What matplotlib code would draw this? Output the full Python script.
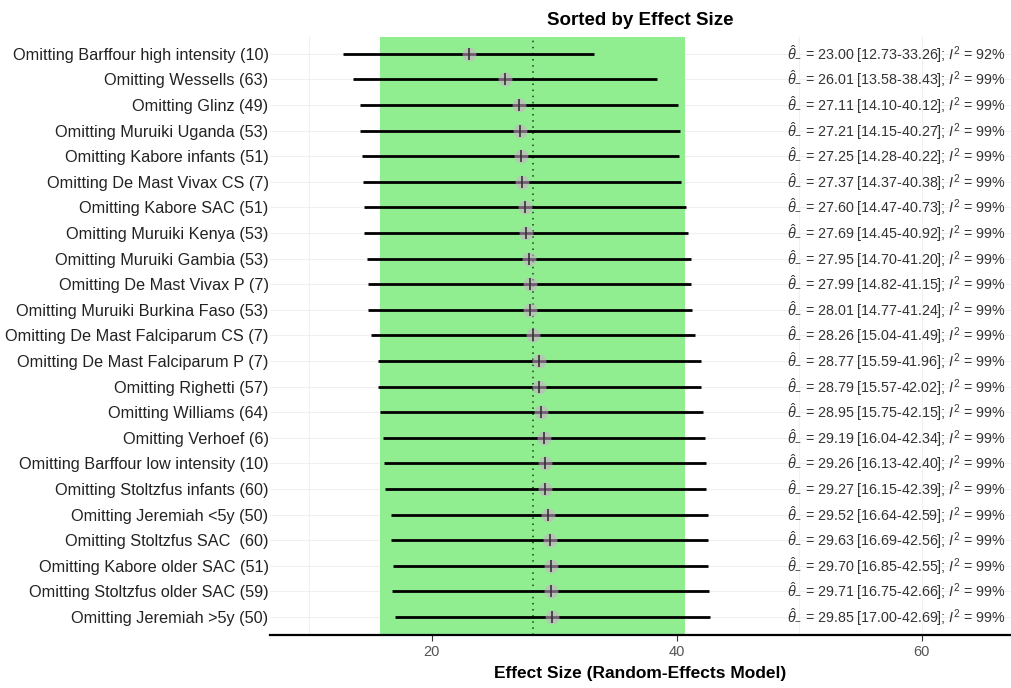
import numpy as np
import matplotlib
matplotlib.use('Agg')
import matplotlib.pyplot as plt

plt.rcParams['font.family'] = ['Liberation Sans', 'DejaVu Sans']
plt.rcParams['mathtext.fontset'] = 'custom'
plt.rcParams['mathtext.rm'] = 'Liberation Sans'
plt.rcParams['mathtext.it'] = 'Liberation Sans:italic'

studies = ['Barffour high intensity (10)', 'Wessells (63)', 'Glinz (49)', 'Muruiki Uganda (53)',
           'Kabore infants (51)', 'De Mast Vivax CS (7)', 'Kabore SAC (51)', 'Muruiki Kenya (53)',
           'Muruiki Gambia (53)', 'De Mast Vivax P (7)', 'Muruiki Burkina Faso (53)',
           'De Mast Falciparum CS (7)', 'De Mast Falciparum P (7)', 'Righetti (57)', 'Williams (64)',
           'Verhoef (6)', 'Barffour low intensity (10)', 'Stoltzfus infants (60)', 'Jeremiah <5y (50)',
           'Stoltzfus SAC  (60)', 'Kabore older SAC (51)', 'Stoltzfus older SAC (59)', 'Jeremiah >5y (50)']
est = [23.00, 26.01, 27.11, 27.21, 27.25, 27.37, 27.60, 27.69, 27.95, 27.99, 28.01, 28.26,
       28.77, 28.79, 28.95, 29.19, 29.26, 29.27, 29.52, 29.63, 29.70, 29.71, 29.85]
lower = [12.73, 13.58, 14.10, 14.15, 14.28, 14.37, 14.47, 14.45, 14.70, 14.82, 14.77, 15.04,
         15.59, 15.57, 15.75, 16.04, 16.13, 16.15, 16.64, 16.69, 16.85, 16.75, 17.00]
upper = [33.26, 38.43, 40.12, 40.27, 40.22, 40.38, 40.73, 40.92, 41.20, 41.15, 41.24, 41.49,
         41.96, 42.02, 42.15, 42.34, 42.40, 42.39, 42.59, 42.56, 42.55, 42.66, 42.69]
i2 = [92] + [99] * 22

pooled = 28.24
pooled_lo, pooled_hi = 15.76, 40.65

fig = plt.figure(figsize=(10.11, 6.88), dpi=100)
ax = fig.add_axes([0.267, 0.077, 0.733, 0.869])

n = len(studies)
ypos = np.arange(n, 0, -1)

ax.axvspan(pooled_lo, pooled_hi, color='#90EE90', zorder=1, lw=0)
ax.axvline(pooled, color='#1a3a1a', ls=(0, (1, 3)), lw=1.1, zorder=2)

ax.hlines(ypos, lower, upper, color='black', lw=2, zorder=3)
ax.plot(est, ypos, 'o', ms=10, color='#d0a8d0', alpha=0.55, mec='none', zorder=4)
ax.plot(est, ypos, '|', ms=8, mew=1.2, color='#333333', zorder=5)

for y, e, lo, hi, i in zip(ypos, est, lower, upper, i2):
    ax.text(49, y, r'$\hat{\theta}_{-}$ = %.2f [%.2f-%.2f]; $I^2$ = %d%%' % (e, lo, hi, i),
            va='center', ha='left', fontsize=10.3, color='#333333', zorder=6)

ax.set_yticks(ypos)
ax.set_yticklabels(['Omitting ' + s for s in studies], fontsize=11.7, color='#222222')
ax.set_xlim(6.78, 67.3)
ax.set_ylim(0.3, n + 0.65)
ax.set_xticks([20, 40, 60])
ax.set_xticks([10, 30, 50], minor=True)
ax.tick_params(axis='y', length=0, pad=1)
ax.tick_params(axis='x', which='major', length=4, color='#333333', labelsize=10.5, labelcolor='#555555')
ax.tick_params(axis='x', which='minor', length=0)

ax.grid(True, which='both', color='#f0f0f0', lw=0.8, zorder=0)
ax.set_axisbelow(True)
for s in ['top', 'right', 'left']:
    ax.spines[s].set_visible(False)
ax.spines['bottom'].set_linewidth(1.6)

ax.set_title('Sorted by Effect Size', fontsize=13.5, fontweight='bold', pad=9)
ax.set_xlabel('Effect Size (Random-Effects Model)', fontsize=12.5, fontweight='bold', labelpad=5)

fig.savefig('out.png', dpi=100)
